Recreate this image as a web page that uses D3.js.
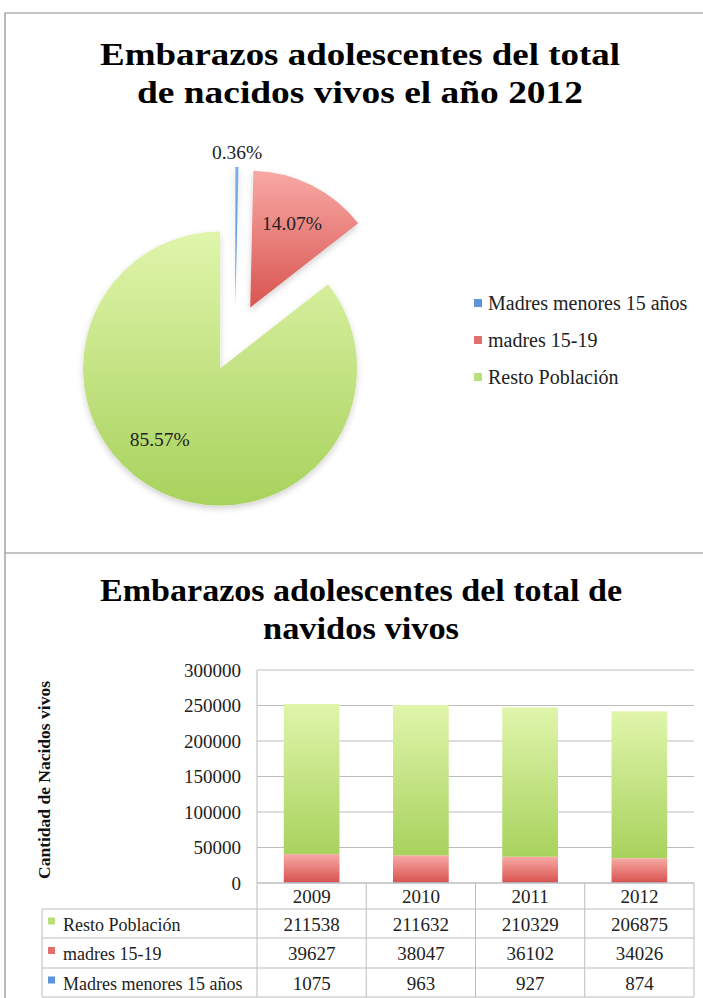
<!DOCTYPE html>
<html>
<head>
<meta charset="utf-8">
<script src="https://cdn.jsdelivr.net/npm/d3@7"></script>
<style>
  body { margin: 0; background: #fff; }
  svg { display: block; font-family: "Liberation Serif", serif; }
</style>
</head>
<body>
<div id="chart"></div>
<script>
// datos
const years = ["2009", "2010", "2011", "2012"];
const seriesNames = ["Madres menores 15 años", "madres 15-19", "Resto Población"];
const menores15 = [1075, 963, 927, 874];
const madres1519 = [39627, 38047, 36102, 34026];
const restoPoblacion = [211538, 211632, 210329, 206875];
const yTicks = [0, 50000, 100000, 150000, 200000, 250000, 300000];
const pieYear = "2012";

const W = 703, H = 998;
const svg = d3.select("#chart").append("svg").attr("width", W).attr("height", H);
const defs = svg.append("defs");

// gradientes verticales (estilo Excel)
function grad(id, top, bottom) {
    const g = defs.append("linearGradient").attr("id", id)
        .attr("x1", 0).attr("y1", 0).attr("x2", 0).attr("y2", 1);
    g.append("stop").attr("offset", "0%").attr("stop-color", top);
    g.append("stop").attr("offset", "100%").attr("stop-color", bottom);
}
grad("gBlue", "#7fb0ea", "#4a84cf");
grad("gRed", "#f8a9a5", "#d8544f");
grad("gGreen", "#e0f5ab", "#a8d25d");
const fills = ["url(#gBlue)", "url(#gRed)", "url(#gGreen)"];
const keyFills = ["#5b94da", "#e0706b", "#b9de7c"];

const sh = defs.append("filter").attr("id", "shadow")
    .attr("x", "-20%").attr("y", "-20%").attr("width", "140%").attr("height", "140%");
sh.append("feDropShadow").attr("dx", 0).attr("dy", 3).attr("stdDeviation", 3)
    .attr("flood-color", "#000").attr("flood-opacity", 0.18);

// marcos
svg.append("path")
    .attr("d", `M5,998 V13 H703 M5,553 H703`)
    .attr("fill", "none").attr("stroke", "#8c8c8c").attr("stroke-width", 1.2);

// títulos: fuente estrecha tipo Cambria, se ajusta el ancho
function title(lines, cx, y0) {
    svg.append("g").selectAll("text").data(lines).enter().append("text")
        .attr("x", cx).attr("y", (d, i) => y0 + i * 38)
        .attr("text-anchor", "middle").attr("font-size", "32px").attr("font-weight", "bold")
        .attr("textLength", d => d.w).attr("lengthAdjust", "spacingAndGlyphs")
        .attr("fill", "#000").text(d => d.t);
}

// ---------- gráfico de torta ----------
title([{ t: "Embarazos adolescentes del total", w: 520 },
       { t: "de nacidos vivos el año 2012", w: 446 }], 360, 65);

const yi = years.indexOf(pieYear);
const pieValues = [menores15[yi], madres1519[yi], restoPoblacion[yi]];
const total = d3.sum(pieValues);
const cx = 235, cy = 338, r = 137, explode = 34;

const pie = d3.pie().sort(null).value(d => d)(pieValues);
const arc = d3.arc().innerRadius(0).outerRadius(r);
const pct = d3.format(".2%");

const pieG = svg.append("g").attr("transform", `translate(${cx},${cy})`).attr("filter", "url(#shadow)");
pie.forEach((s, i) => {
    const mid = (s.startAngle + s.endAngle) / 2;
    const dx = Math.sin(mid) * explode, dy = -Math.cos(mid) * explode;
    pieG.append("path")
        .attr("transform", `translate(${dx},${dy})`)
        .attr("d", arc(s))
        .attr("fill", fills[i]);
});

// etiquetas de porcentaje
pie.forEach((s, i) => {
    const mid = (s.startAngle + s.endAngle) / 2;
    // la porción pequeña lleva la etiqueta afuera
    const lr = i === 0 ? explode + r + 14 : explode + r * 0.68;
    const a = i === 2 ? mid + 0.18 : mid;
    svg.append("text")
        .attr("x", cx + Math.sin(a) * lr)
        .attr("y", cy - Math.cos(a) * lr + 6)
        .attr("text-anchor", "middle").attr("font-size", "19.5px").attr("fill", "#222")
        .text(pct(s.data / total));
});

// leyenda
const leg = svg.append("g").attr("transform", "translate(474,303)");
seriesNames.forEach((name, i) => {
    leg.append("rect").attr("x", 0).attr("y", i * 37 - 4).attr("width", 8).attr("height", 8)
        .attr("fill", keyFills[i]);
    leg.append("text").attr("x", 14).attr("y", i * 37 + 7)
        .attr("font-size", "20px").attr("fill", "#222").text(name);
});

// ---------- gráfico de barras ----------
title([{ t: "Embarazos adolescentes del total de", w: 522 },
       { t: "navidos vivos", w: 196 }], 361, 601);

const x0 = 257, x1 = 694;
const x = d3.scaleBand().domain(years).range([x0, x1]).padding(0);
const y = d3.scaleLinear().domain([0, 300000]).range([883, 670]);

// líneas de grilla
svg.append("g").selectAll("line").data(yTicks).enter().append("line")
    .attr("x1", x0).attr("x2", x1)
    .attr("y1", d => y(d)).attr("y2", d => y(d))
    .attr("stroke", "#bdbdbd").attr("stroke-width", 1);
svg.append("line").attr("x1", x0).attr("x2", x0).attr("y1", y(300000)).attr("y2", y(0))
    .attr("stroke", "#bdbdbd");

// eje Y
const yAxis = svg.append("g").attr("transform", `translate(${x0 - 16},0)`)
    .call(d3.axisLeft(y).tickValues(yTicks).tickSize(0).tickPadding(0).tickFormat(d3.format("d")));
yAxis.select(".domain").remove();
yAxis.selectAll("text").attr("font-family", "Liberation Serif, serif")
    .attr("font-size", "19px").attr("fill", "#222");

svg.append("text")
    .attr("transform", `translate(50,780) rotate(-90)`)
    .attr("text-anchor", "middle").attr("font-size", "17.5px").attr("font-weight", "bold")
    .attr("fill", "#111").text("Cantidad de Nacidos vivos");

// barras apiladas
const rows = years.map((yr, i) => ({
    year: yr, menores: menores15[i], madres: madres1519[i], resto: restoPoblacion[i]
}));
const stack = d3.stack().keys(["menores", "madres", "resto"])(rows);
const bw = x.bandwidth() * 0.51;
stack.forEach((layer, k) => {
    svg.append("g").selectAll("rect").data(layer).enter().append("rect")
        .attr("x", d => x(d.data.year) + (x.bandwidth() - bw) / 2)
        .attr("width", bw)
        .attr("y", d => y(d[1]))
        .attr("height", d => y(d[0]) - y(d[1]))
        .attr("fill", fills[k]);
});

// tabla de datos
const rowTop = [883, 909, 938, 968, 997];
const tableLeft = 42;
const tableRows = [
    { name: seriesNames[2], vals: restoPoblacion, key: keyFills[2] },
    { name: seriesNames[1], vals: madres1519, key: keyFills[1] },
    { name: seriesNames[0], vals: menores15, key: keyFills[0] }
];
const tbl = svg.append("g").attr("stroke", "#bdbdbd").attr("stroke-width", 1);
// horizontales
tbl.append("line").attr("x1", x0).attr("x2", x1).attr("y1", rowTop[0]).attr("y2", rowTop[0]);
rowTop.slice(1).forEach(yy => {
    tbl.append("line").attr("x1", tableLeft).attr("x2", x1).attr("y1", yy).attr("y2", yy);
});
// verticales
years.forEach(yr => {
    tbl.append("line").attr("x1", x(yr)).attr("x2", x(yr)).attr("y1", rowTop[0]).attr("y2", rowTop[4]);
});
tbl.append("line").attr("x1", x1).attr("x2", x1).attr("y1", rowTop[0]).attr("y2", rowTop[4]);
tbl.append("line").attr("x1", tableLeft).attr("x2", tableLeft).attr("y1", rowTop[1]).attr("y2", rowTop[4]);

// encabezado de años
svg.append("g").selectAll("text").data(years).enter().append("text")
    .attr("x", d => x(d) + x.bandwidth() / 2).attr("y", (rowTop[0] + rowTop[1]) / 2 + 7)
    .attr("text-anchor", "middle").attr("font-size", "19px").attr("fill", "#222").text(d => d);

tableRows.forEach((row, ri) => {
    const cyRow = (rowTop[ri + 1] + rowTop[ri + 2]) / 2;
    svg.append("rect").attr("x", tableLeft + 6).attr("y", cyRow - 6).attr("width", 7).attr("height", 7)
        .attr("fill", row.key);
    svg.append("text").attr("x", tableLeft + 21).attr("y", cyRow + 7)
        .attr("font-size", "18px").attr("fill", "#222").text(row.name);
    svg.append("g").selectAll("text").data(row.vals).enter().append("text")
        .attr("x", (d, i) => x(years[i]) + x.bandwidth() / 2).attr("y", cyRow + 7)
        .attr("text-anchor", "middle").attr("font-size", "19px").attr("fill", "#222")
        .text(d => d);
});
</script>
</body>
</html>
